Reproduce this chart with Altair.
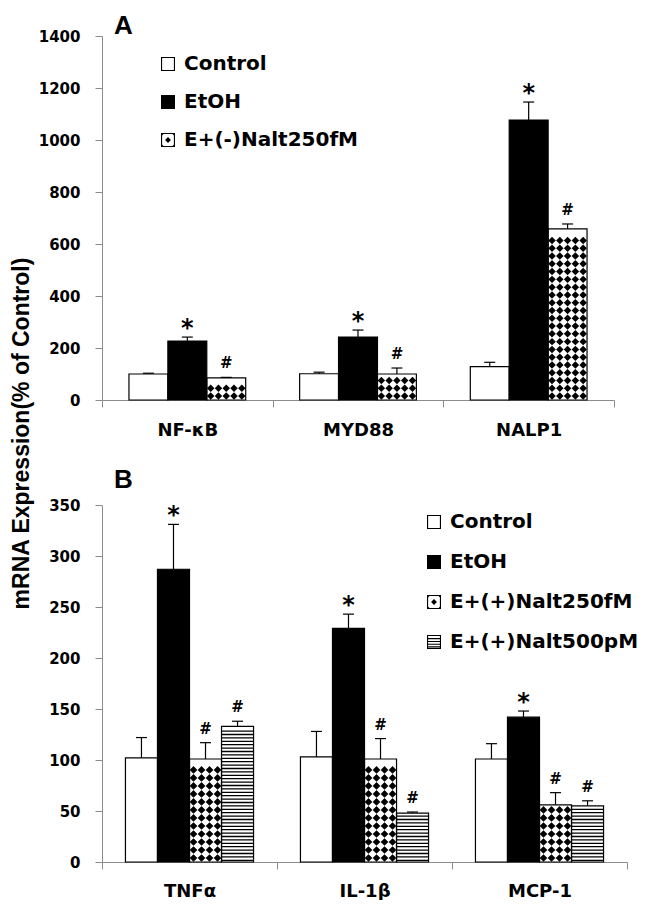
import json
import altair as alt
import pandas as pd

# ---------------- data: panel A ----------------
genes_a = ["NF-κB", "MYD88", "NALP1"]
groups_a = ["Control", "EtOH", "E+(-)Nalt250fM"]
control_a = [100, 101, 128]
control_a_err = [3, 6, 17]
etoh_a = [227, 242, 1077]
etoh_a_err = [15, 27, 69]
nalt250_a = [85, 100, 658]
nalt250_a_err = [2, 23, 19]
sig_a = ["", "*", "#"]
yticks_a = [0, 200, 400, 600, 800, 1000, 1200, 1400]

# ---------------- data: panel B ----------------
genes_b = ["TNFα", "IL-1β", "MCP-1"]
groups_b = ["Control", "EtOH", "E+(+)Nalt250fM", "E+(+)Nalt500pM"]
control_b = [102, 103, 101]
control_b_err = [20, 25, 15]
etoh_b = [287, 229, 142]
etoh_b_err = [44, 14, 6]
nalt250_b = [101, 101, 56]
nalt250_b_err = [16, 20, 12]
nalt500_b = [133, 48, 55]
nalt500_b_err = [5, 1, 5]
sig_b = ["", "*", "#", "#"]
yticks_b = [0, 50, 100, 150, 200, 250, 300, 350]

y_title = "mRNA Expression(% of Control)"

# ---------------- styles ----------------
FONT = "DejaVu Sans"
TFONT = "Liberation Sans"
GRAY = "#8c8c8c"
# legend keys drawn as filled paths (outer square clockwise, inner hole counter-clockwise)
SOLID_KEY = "M-1,-1H1V1H-1Z"
FRAME_KEY = "M-1,-1H1V1H-1Z M-0.84,-0.84V0.84H0.84V-0.84Z"
DIAMOND_KEY = (FRAME_KEY + " M0,-0.42L0.42,0L0,0.42L-0.42,0Z"
               " M-1,-1L-0.5,-1L-1,-0.5Z M1,-1L1,-0.5L0.5,-1Z"
               " M1,1L0.5,1L1,0.5Z M-1,1L-1,0.5L-0.5,1Z")
STRIPE_KEY = (FRAME_KEY + " M-1,-0.56H1V-0.4H-1Z M-1,-0.16H1V0H-1Z"
              " M-1,0.24H1V0.4H-1Z M-1,0.62H1V0.78H-1Z")


def panel(letter, letter_dy, genes, groups, series, errors, sigs, patterns,
          fills, keys, ymax, yticks, width, height, bar_w, n_dcols,
          legend_x, legend_y, row_pad, x_label_pad):
    n_cat, n_grp = len(genes), len(groups)
    start = (1 - n_grp * bar_w) / 2
    px_x = width / n_cat
    px_y = height / ymax
    cap = 5.5 / px_x
    bars, dia, stripes = [], [], []
    for i, gene in enumerate(genes):
        for j, grp in enumerate(groups):
            v, e = series[j][i], errors[j][i]
            x0 = i + start + j * bar_w
            x1 = x0 + bar_w
            xc = (x0 + x1) / 2
            bars.append(dict(gene=gene, group=grp, fillc=fills[j], x0=x0, x1=x1,
                             xc=xc, v=v, base=0, top=v + e, capL=xc - cap,
                             capR=xc + cap, sig=sigs[j]))
            if patterns[j] == "diamond":
                sx = bar_w / n_dcols
                sy = sx * px_x / px_y
                k = 0
                while (k + 1) * sy <= v:
                    for c in range(n_dcols):
                        dia.append(dict(x=x0 + (c + 0.5) * sx, y=(k + 0.5) * sy))
                    k += 1
            elif patterns[j] == "stripes":
                sy = 3.4 / px_y
                k = 0
                while (k + 1) * sy <= v:
                    stripes.append(dict(x0=x0, x1=x1, y=(k + 0.5) * sy))
                    k += 1
    df = pd.DataFrame(bars)
    dsize = (bar_w / n_dcols * px_x * 0.96) ** 2

    xs = alt.Scale(domain=[0, n_cat], nice=False, zero=False)
    ys = alt.Scale(domain=[0, ymax], nice=False, zero=True)
    shape_scale = alt.Scale(domain=groups, range=keys)

    names = json.dumps(genes, ensure_ascii=False).replace('"', "'")
    xaxis = alt.Axis(
        values=[k / 2 for k in range(2 * n_cat + 1)],
        labelExpr=f"datum.value % 1 === 0 ? '' : {names}[floor(datum.value)]",
        tickOpacity={"condition": {"test": "datum.value % 1 === 0", "value": 1}, "value": 0},
        tickSize=7, tickColor=GRAY, domainColor=GRAY, grid=False, title=None,
        labelFont=FONT, labelFontSize=18, labelFontWeight="bold", labelColor="black",
        labelPadding=x_label_pad, labelOverlap=False, labelFlush=False,
    )
    yaxis = alt.Axis(
        values=yticks, format="d", title=None, grid=False, tickSize=7, tickColor=GRAY,
        domainColor=GRAY, labelPadding=15, labelFont=FONT, labelFontSize=15,
        labelFontWeight="bold", labelColor="black",
    )
    legend = alt.Legend(
        title=None, orient="none", legendX=legend_x, legendY=legend_y,
        symbolSize=196, symbolFillColor="black", symbolStrokeWidth=0,
        symbolOpacity=1, labelFont=FONT, labelFontSize=20, labelFontWeight="bold",
        labelColor="black", labelOffset=6, labelLimit=400, rowPadding=row_pad,
        padding=0,
    )

    def X(f):
        return alt.X(f, scale=xs, axis=xaxis)

    def Y(f):
        return alt.Y(f, scale=ys, axis=yaxis)

    base = alt.Chart(df)
    fill_bars = base.mark_bar().encode(
        x=X("x0:Q"), x2="x1:Q", y=Y("v:Q"), y2="base:Q",
        fill=alt.Fill("fillc:N", scale=None),
    )
    key_layer = base.mark_point(filled=True, color="black", opacity=0, size=4).encode(
        x=X("xc:Q"), y=Y("v:Q"),
        shape=alt.Shape("group:N", scale=shape_scale, legend=legend),
    )
    layers = [fill_bars]
    if dia:
        layers.append(alt.Chart(pd.DataFrame(dia)).mark_point(
            shape="diamond", filled=True, color="black", size=dsize, opacity=1
        ).encode(x=X("x:Q"), y=Y("y:Q")))
    if stripes:
        layers.append(alt.Chart(pd.DataFrame(stripes)).mark_rule(
            color="black", strokeWidth=1.3
        ).encode(x=X("x0:Q"), x2="x1:Q", y=Y("y:Q")))
    outline = base.mark_bar(fill="transparent", stroke="black", strokeWidth=1.2).encode(
        x=X("x0:Q"), x2="x1:Q", y=Y("v:Q"), y2="base:Q",
    )
    err = base.mark_rule(color="black", strokeWidth=1.2).encode(
        x=X("xc:Q"), y=Y("v:Q"), y2="top:Q",
    )
    caps = base.mark_rule(color="black", strokeWidth=1.2).encode(
        x=X("capL:Q"), x2="capR:Q", y=Y("top:Q"),
    )
    stars = base.transform_filter("datum.sig === '*'").mark_text(
        font=FONT, fontSize=24, fontWeight="bold", color="black",
        baseline="alphabetic", dy=-1,
    ).encode(x=X("xc:Q"), y=Y("top:Q"), text="sig:N")
    hashes = base.transform_filter("datum.sig === '#'").mark_text(
        font=FONT, fontSize=15, fontWeight="bold", color="black",
        baseline="alphabetic", dy=-9,
    ).encode(x=X("xc:Q"), y=Y("top:Q"), text="sig:N")
    layers += [outline, err, caps, stars, hashes, key_layer]
    return alt.layer(*layers).properties(
        width=width, height=height,
        title=alt.TitleParams(letter, anchor="start", frame="group", font=TFONT,
                              fontSize=26, fontWeight="bold", color="black",
                              baseline="alphabetic", offset=0, dx=12, dy=letter_dy),
    )


panel_a = panel(
    "A", 31, genes_a, groups_a,
    [control_a, etoh_a, nalt250_a], [control_a_err, etoh_a_err, nalt250_a_err],
    sig_a, ["none", "none", "diamond"], ["white", "black", "white"],
    [FRAME_KEY, SOLID_KEY, DIAMOND_KEY], 1400, yticks_a, 512, 364, 0.228, 5,
    56, 18, 18, 14,
)
panel_b = panel(
    "B", 16, genes_b, groups_b,
    [control_b, etoh_b, nalt250_b, nalt500_b],
    [control_b_err, etoh_b_err, nalt250_b_err, nalt500_b_err],
    sig_b, ["none", "none", "diamond", "stripes"], ["white", "black", "white", "white"],
    [FRAME_KEY, SOLID_KEY, DIAMOND_KEY, STRIPE_KEY], 350, yticks_b, 525, 357, 0.183, 4,
    322, 7, 20, 13,
)

chart = alt.vconcat(
    panel_a, panel_b, spacing=28,
    title=alt.TitleParams(y_title, orient="left", anchor="middle", font=TFONT,
                          fontSize=23, fontWeight="bold", color="black", offset=4,
                          dx=23),
).resolve_scale(
    shape="independent"
).resolve_legend(
    shape="independent"
).properties(
    padding={"left": 3, "top": 5, "right": 5, "bottom": 0}
).configure_view(stroke=None)

chart.save("out.html", embed_options={"renderer": "svg", "actions": False})
